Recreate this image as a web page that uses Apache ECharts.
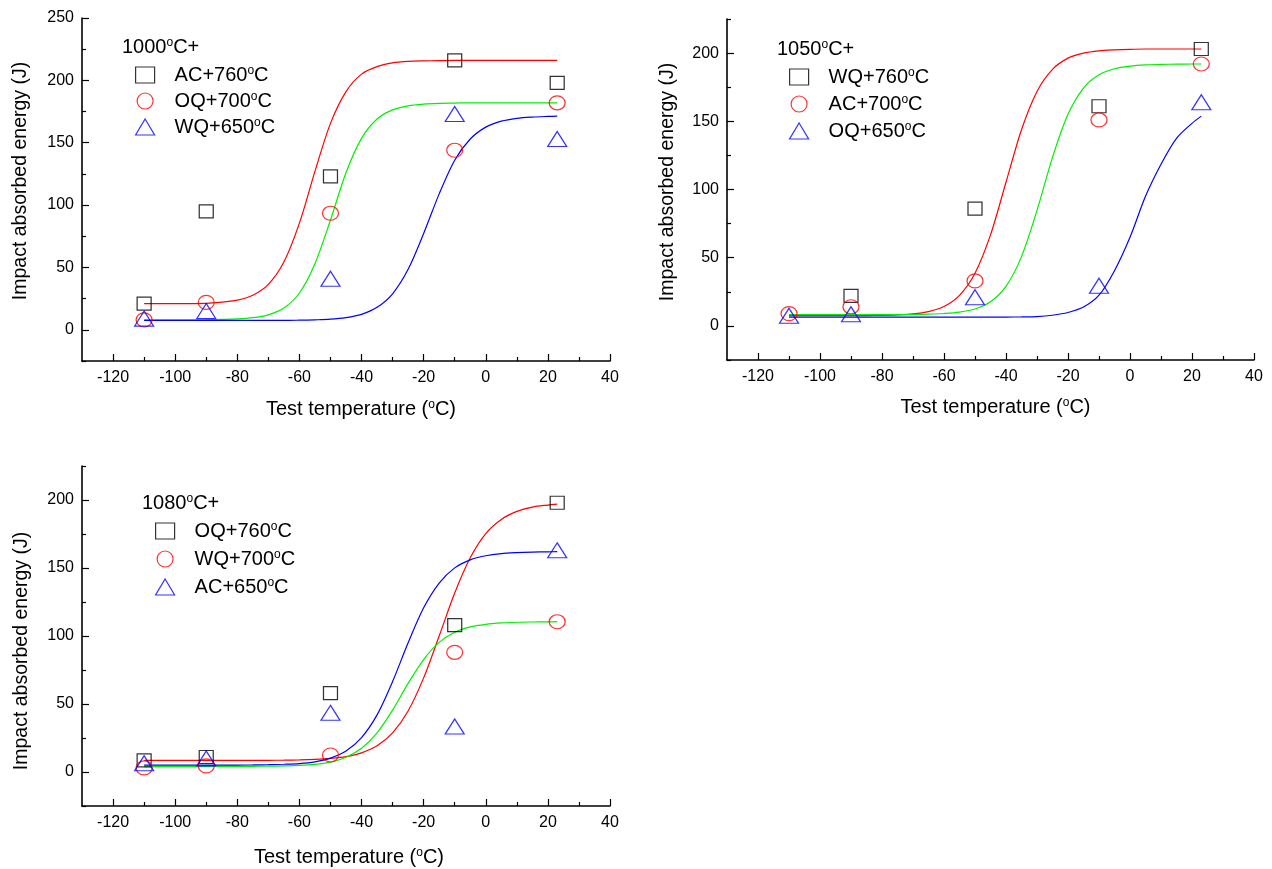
<!DOCTYPE html>
<html>
<head>
<meta charset="utf-8">
<script src="https://cdn.jsdelivr.net/npm/echarts@6/dist/echarts.min.js"></script>
<style>
html,body{margin:0;padding:0;background:#fff;}
#chart{width:1272px;height:869px;}
</style>
</head>
<body>
<div id="chart"></div>
<script>
// ---------------- data ----------------
const testTemps = [-110, -90, -50, -10, 23];

// Panel 1 : 1000°C+
const p1Names = ['AC+760°C', 'OQ+700°C', 'WQ+650°C'];
const p1Square = [21, 95, 123, 216, 198];
const p1Circle = [8, 22, 93.5, 144, 182];
const p1Triangle = [9, 15, 41, 173, 153];

// Panel 2 : 1050°C+
const p2Names = ['WQ+760°C', 'AC+700°C', 'OQ+650°C'];
const p2Square = [null, 22, 86, 161, 203];
const p2Circle = [9, 14, 33, 151, 192];
const p2Triangle = [7.5, 8.5, 21, 29.5, 164];

// Panel 3 : 1080°C+
const p3Names = ['OQ+760°C', 'WQ+700°C', 'AC+650°C'];
const p3Square = [8.5, 11, 58, 108, 198];
const p3Circle = [3, 4.5, 12.5, 88, 110.5];
const p3Triangle = [6.5, 10, 43.5, 33.5, 163];

// fitted curves
const curveT = [-110,-100,-90,-85,-80,-75,-70,-65,-60,-55,-50,-45,-40,-35,-30,-25,-20,-15,-10,-5,0,5,10,15,20,23];
const p1Red   = [21,21,21.2,22.2,23.8,27.7,36.4,54.3,85.5,127,165.5,191,205,211,214,215.2,215.6,215.8,216,216,216,216,216,216,216,216];
const p1Green = [8,8,8.1,8.3,8.7,9.7,12,17.4,29.5,53,88,126,153.5,169,176.3,179.6,181,181.6,181.8,182,182,182,182,182,182,182];
const p1Blue  = [7.5,7.5,7.5,7.5,7.5,7.5,7.5,7.5,7.7,8,8.5,9.8,12.4,18,28.9,48.5,77.2,109,136,153,162.5,167.3,169.6,170.6,171.1,171.3];

const p2Red   = [7.5,7.5,7.5,7.6,7.75,8.1,8.8,10.5,14.2,22.4,38.6,66.7,105.3,143.8,171.9,188.1,196.3,200,201.7,202.4,202.8,203,203,203,203,203];
const p2Green = [8.3,8.3,8.3,8.3,8.3,8.3,8.4,8.6,9.1,10.1,12.4,17.7,29,50.8,84.7,123.6,155.1,174.4,184.1,188.5,190.5,191.4,191.7,191.9,192,192];
const p2Blue  = [6.5,6.5,6.5,6.5,6.5,6.5,6.5,6.5,6.5,6.5,6.5,6.5,6.5,6.6,6.8,7.8,9.8,13.8,22.5,40.5,65,95,118.5,137.5,148.5,153.8];

const p3Red   = [8.5,8.5,8.5,8.5,8.5,8.6,8.6,8.7,8.9,9.3,10,11.3,14.1,19.3,28.8,44.9,69.2,100,131.6,157.5,175.3,185.7,191.6,194.8,196.3,197];
const p3Green = [4,4,4,4.1,4.1,4.2,4.3,4.5,4.8,5.6,7.3,10.8,17.4,28.8,45.5,65.2,82.7,95.3,102.7,106.7,108.6,109.6,110.1,110.3,110.4,110.5];
const p3Blue  = [5,5,5,5,5.1,5.2,5.4,5.7,6.2,7.5,10.2,15.4,25.3,42,66.5,95,120.7,138.9,150.1,156,159,160.6,161.3,161.7,161.9,162];

const xMajor = [-120,-100,-80,-60,-40,-20,0,20,40];
const xMinor = [-110,-90,-70,-50,-30,-10,10,30];
const y1Major = [0,50,100,150,200,250];
const y1Minor = [-25,25,75,125,175,225];
const y23Major = [0,50,100,150,200];
const y23Minor = [-25,25,75,125,175,225];

const panelTitles = ['1000{sup|o}C+', '1050{sup|o}C+', '1080{sup|o}C+'];
const xTitle = 'Test temperature ({sup|o}C)';
const yTitle = 'Impact absorbed energy (J)';

// ---------------- helpers ----------------
const FONT = '"Liberation Sans", Arial, sans-serif';
const supRich = { sup: { fontSize: 12, lineHeight: 5, verticalAlign: 'top', fontFamily: FONT, color: '#000' } };
const pairs = (xs, ys) => xs.map((x, i) => [x, ys[i] == null ? null : ys[i]]).filter(p => p[1] !== null);

const grids = [
  { left: 82, top: 18, width: 528, height: 343 },
  { left: 727, top: 19, width: 527, height: 341 },
  { left: 82, top: 466, width: 528, height: 340 }
];
const yRanges = [[-25, 250, y1Major, y1Minor], [-25, 225, y23Major, y23Minor], [-25, 225, y23Major, y23Minor]];
const xNameGap = [38, 37, 41];
const xNamePad = [[0,0,0,30],[0,0,0,10],[0,0,0,6]];
const yNamePad = [[0,0,0,17],[0,0,0,15],[0,30,0,0]];
const yNameGap = [51, 49, 50];

const xAxes = [], yAxes = [];
grids.forEach((g, i) => {
  xAxes.push({
    type: 'value', gridIndex: i, min: -130, max: 40, position: 'bottom',
    axisLine: { onZero: false, lineStyle: { color: '#000', width: 1.6 } },
    axisTick: { inside: true, length: 7, customValues: xMajor, lineStyle: { color: '#000', width: 1.2 } },
    axisLabel: { customValues: xMajor, margin: 9, color: '#000', fontSize: 16, fontFamily: FONT },
    splitLine: { show: false },
    name: xTitle, nameLocation: 'middle', nameGap: xNameGap[i],
    nameTextStyle: { fontSize: 20, fontFamily: FONT, color: '#000', padding: xNamePad[i], rich: supRich }
  });
  xAxes.push({
    type: 'value', gridIndex: i, min: -130, max: 40, position: 'bottom',
    axisLine: { show: false, onZero: false },
    axisTick: { inside: true, length: 4, customValues: xMinor, lineStyle: { color: '#000', width: 1.2 } },
    axisLabel: { show: false }, splitLine: { show: false }
  });
  const r = yRanges[i];
  yAxes.push({
    type: 'value', gridIndex: i, min: r[0], max: r[1], position: 'left',
    axisLine: { show: true, onZero: false, lineStyle: { color: '#000', width: 1.6 } },
    axisTick: { show: true, inside: true, length: 7, customValues: r[2], lineStyle: { color: '#000', width: 1.2 } },
    axisLabel: { customValues: r[2], margin: 8, color: '#000', fontSize: 16, fontFamily: FONT },
    splitLine: { show: false },
    name: yTitle, nameLocation: 'middle', nameGap: yNameGap[i], nameRotate: 90,
    nameTextStyle: { fontSize: 19.5, fontFamily: FONT, color: '#000', padding: yNamePad[i] }
  });
  yAxes.push({
    type: 'value', gridIndex: i, min: r[0], max: r[1], position: 'left',
    axisLine: { show: false, onZero: false },
    axisTick: { show: true, inside: true, length: 4, customValues: r[3], lineStyle: { color: '#000', width: 1.2 } },
    axisLabel: { show: false }, splitLine: { show: false }
  });
});

const markerDefs = [
  { symbol: 'rect', size: [14, 13], color: '#000000' },
  { symbol: 'circle', size: [16, 14], color: '#ff0000' },
  { symbol: 'triangle', size: [19, 15], color: '#0000ff' }
];
const legendIcons = ['rect', 'circle', 'triangle'];

const panels = [
  { names: p1Names, pts: [p1Square, p1Circle, p1Triangle], curves: [p1Red, p1Green, p1Blue] },
  { names: p2Names, pts: [p2Square, p2Circle, p2Triangle], curves: [p2Red, p2Green, p2Blue] },
  { names: p3Names, pts: [p3Square, p3Circle, p3Triangle], curves: [p3Red, p3Green, p3Blue] }
];
const curveColors = ['#ff0000', '#00f000', '#0000ff'];

const series = [];
panels.forEach((p, i) => {
  p.curves.forEach((c, k) => {
    series.push({
      type: 'line', name: 'fit' + i + k, xAxisIndex: 2 * i, yAxisIndex: 2 * i,
      data: pairs(curveT, c), smooth: 0.3, showSymbol: false, silent: true,
      lineStyle: { color: curveColors[k], width: 1.2 }, z: 2
    });
  });
  p.pts.forEach((vals, k) => {
    const m = markerDefs[k];
    series.push({
      type: 'scatter', name: p.names[k], xAxisIndex: 2 * i, yAxisIndex: 2 * i,
      data: pairs(testTemps, vals), symbol: m.symbol, symbolSize: m.size,
      itemStyle: { color: 'rgba(0,0,0,0)', borderColor: m.color, borderWidth: 1.2 }, z: 3 + k
    });
  });
});

const legendPos = [
  { left: 135, top: 65, gap: 6 },
  { left: 789, top: 67, gap: 7 },
  { left: 155, top: 521, gap: 8 }
];
const legends = panels.map((p, i) => ({
  orient: 'vertical', left: legendPos[i].left, top: legendPos[i].top, padding: 0,
  itemWidth: 19, itemHeight: 16, itemGap: legendPos[i].gap, selectedMode: false,
  data: p.names.map((n, k) => ({
    name: n, icon: legendIcons[k],
    itemStyle: { color: 'rgba(0,0,0,0)', borderColor: markerDefs[k].color, borderWidth: 1.2 }
  })),
  formatter: name => name.replace('°', '{sup|o}'),
  textStyle: { fontSize: 20, lineHeight: 20, fontFamily: FONT, color: '#000', padding: [0, 0, 0, 15], rich: supRich }
}));

const titlePos = [[122, 37], [777, 39], [142, 493]];
const titles = panelTitles.map((t, i) => ({
  text: t, left: titlePos[i][0], top: titlePos[i][1], padding: 0,
  textStyle: { fontSize: 20, lineHeight: 20, fontWeight: 'normal', fontFamily: FONT, color: '#000', rich: supRich }
}));

const chart = echarts.init(document.getElementById('chart'), null, { renderer: 'canvas' });
chart.setOption({
  backgroundColor: '#ffffff',
  animation: false,
  title: titles,
  legend: legends,
  grid: grids,
  xAxis: xAxes,
  yAxis: yAxes,
  series: series
});
</script>
</body>
</html>
